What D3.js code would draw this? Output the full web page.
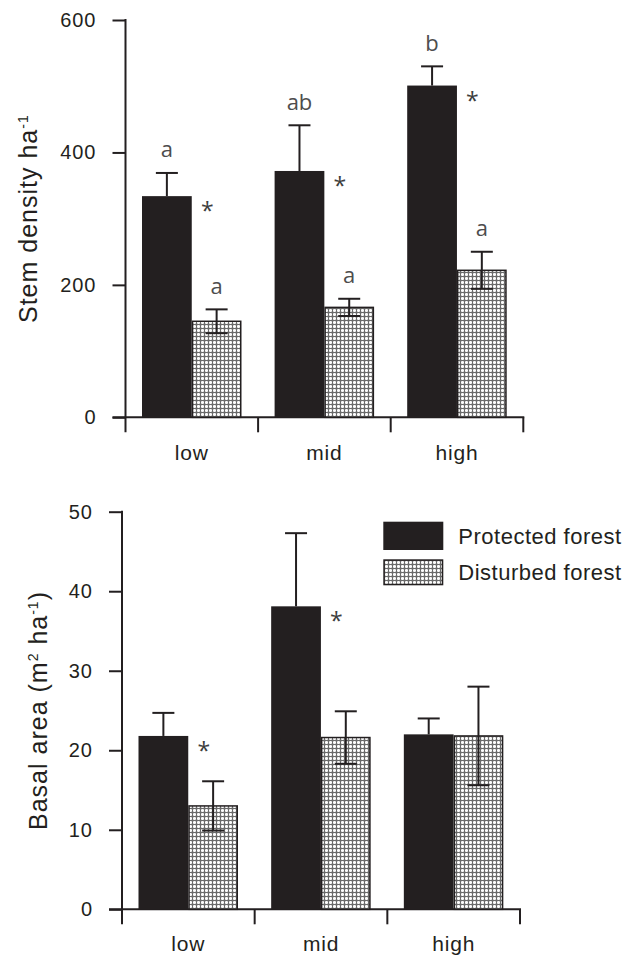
<!DOCTYPE html>
<html>
<head>
<meta charset="utf-8">
<script src="https://cdn.jsdelivr.net/npm/d3@7"></script>
<style>
  html, body { margin: 0; padding: 0; background: #fff; }
  svg { display: block; }
</style>
</head>
<body>
<svg id="fig" width="627" height="957"></svg>
<script>
// Forest structure along three disturbance levels
const categories = ["low", "mid", "high"];
const seriesNames = ["Protected forest", "Disturbed forest"];

// Stem density (stems per ha), mean and standard error
const stemProtected = [334, 372, 501];
const stemProtectedErr = [35, 69, 29];
const stemDisturbed = [145, 166, 222];
const stemDisturbedErr = [18, 13, 28];
const stemLettersProtected = ["a", "ab", "b"];
const stemLettersDisturbed = ["a", "a", "a"];
const stemStars = [true, true, true];
const stemTicks = [0, 200, 400, 600];

// Basal area (m² per ha), mean and standard error
const basalProtected = [21.8, 38.1, 22.0];
const basalProtectedErr = [2.9, 9.2, 2.0];
const basalDisturbed = [13.0, 21.6, 21.8];
const basalDisturbedErr = [3.1, 3.3, 6.2];
const basalStars = [true, true, false];
const basalTicks = [0, 10, 20, 30, 40, 50];

const INK = "#231f20";
const svg = d3.select("#fig");

// fine checked fill used for the disturbed forest bars
const defs = svg.append("defs");
const pat = defs.append("pattern")
  .attr("id", "grid")
  .attr("patternUnits", "userSpaceOnUse")
  .attr("width", 4).attr("height", 4);
pat.append("rect").attr("width", 4).attr("height", 4).attr("fill", "#d2d2d2");
pat.append("rect").attr("x", 2).attr("width", 1).attr("height", 4).attr("fill", "#fbfbfb");
pat.append("rect").attr("y", 2).attr("width", 4).attr("height", 1).attr("fill", "#fbfbfb");
pat.append("rect").attr("x", 0).attr("width", 1).attr("height", 4).attr("fill", "#6a6a6a");
pat.append("rect").attr("y", 0).attr("width", 4).attr("height", 1).attr("fill", "#6a6a6a");

const fillFor = i => i === 0 ? INK : "url(#grid)";

function panel(cfg) {
  const g = svg.append("g");
  const x = d3.scaleBand().domain(categories).range([cfg.x0, cfg.x1]);
  const xs = d3.scaleBand().domain(seriesNames).range([16.5, 116]);
  const y = d3.scaleLinear().domain([0, cfg.max]).range([cfg.yBottom, cfg.yTop]);

  // y axis
  const yAxis = d3.axisLeft(y).tickValues(cfg.ticks).tickSize(13).tickPadding(16);
  const ya = g.append("g").attr("transform", `translate(${cfg.x0},0)`).call(yAxis);
  ya.select(".domain").remove();
  ya.selectAll(".tick line").attr("stroke", INK).attr("stroke-width", 2);
  ya.selectAll(".tick text")
    .attr("fill", INK)
    .style("font-family", "'Liberation Sans', Arial, sans-serif")
    .style("font-size", "20px")
    .style("letter-spacing", "1px");
  g.append("line")
    .attr("x1", cfg.x0).attr("x2", cfg.x0)
    .attr("y1", y(cfg.max) - 1).attr("y2", y(0) + 15)
    .attr("stroke", INK).attr("stroke-width", 2);

  // x axis: baseline, category boundary ticks and labels
  g.append("line")
    .attr("x1", cfg.x0 - 13).attr("x2", cfg.x1 + 1)
    .attr("y1", y(0)).attr("y2", y(0))
    .attr("stroke", INK).attr("stroke-width", 2);
  const bounds = categories.map(c => x(c) + x.bandwidth());
  g.selectAll(".xtick").data(bounds).join("line")
    .attr("x1", d => d).attr("x2", d => d)
    .attr("y1", y(0)).attr("y2", y(0) + 15)
    .attr("stroke", INK).attr("stroke-width", 2);
  g.selectAll(".xlab").data(categories).join("text")
    .attr("x", d => x(d) + x.bandwidth() / 2)
    .attr("y", y(0) + cfg.labelDy)
    .attr("text-anchor", "middle")
    .attr("fill", INK)
    .style("font-family", "'Liberation Sans', Arial, sans-serif")
    .style("font-size", "21px")
    .style("letter-spacing", "0.8px")
    .text(d => d);

  // bars
  const rows = [];
  categories.forEach((c, i) => {
    rows.push({ c, s: 0, v: cfg.prot[i], e: cfg.protErr[i], lab: cfg.lettersP ? cfg.lettersP[i] : null });
    rows.push({ c, s: 1, v: cfg.dist[i], e: cfg.distErr[i], lab: cfg.lettersD ? cfg.lettersD[i] : null });
  });
  const bx = d => x(d.c) + xs(seriesNames[d.s]);
  g.selectAll(".bar").data(rows).join("rect")
    .attr("x", d => bx(d) + (d.s === 1 ? 0.75 : 0))
    .attr("y", d => y(d.v))
    .attr("width", d => xs.bandwidth() - (d.s === 1 ? 1.5 : 0))
    .attr("height", d => y(0) - y(d.v))
    .attr("fill", d => fillFor(d.s))
    .attr("stroke", d => d.s === 1 ? INK : "none")
    .attr("stroke-width", 1.5);

  // error bars (upper whisker; lower whisker shows only on the light bars)
  const cap = 11;
  rows.forEach(d => {
    const cx = bx(d) + xs.bandwidth() / 2;
    const top = y(d.v + d.e);
    const bot = d.s === 1 ? y(d.v - d.e) : y(d.v);
    g.append("line").attr("x1", cx).attr("x2", cx).attr("y1", top).attr("y2", bot)
      .attr("stroke", INK).attr("stroke-width", 2);
    g.append("line").attr("x1", cx - cap).attr("x2", cx + cap).attr("y1", top).attr("y2", top)
      .attr("stroke", INK).attr("stroke-width", 2);
    if (d.s === 1) {
      g.append("line").attr("x1", cx - cap).attr("x2", cx + cap).attr("y1", bot).attr("y2", bot)
        .attr("stroke", INK).attr("stroke-width", 2);
    }
    if (d.lab) {
      g.append("text")
        .attr("x", cx).attr("y", top - 15.5)
        .attr("text-anchor", "middle")
        .attr("fill", "#4d4d4d")
        .style("font-family", "'Open Sans', sans-serif")
        .style("font-size", "22px")
        .text(d.lab);
    }
  });

  // significance stars between the paired bars
  categories.forEach((c, i) => {
    if (!cfg.stars[i]) return;
    g.append("text")
      .attr("x", x(c) + xs(seriesNames[1]) + 15.5)
      .attr("y", y(cfg.prot[i]) + 11 + 12)
      .attr("text-anchor", "middle")
      .attr("fill", "#3d3d3d")
      .style("font-family", "'Open Sans', sans-serif")
      .style("font-size", "23px")
      .text("*");
  });

  // y axis title
  const title = g.append("text")
    .attr("transform", `translate(${cfg.titleX},${(y(0) + y(cfg.max)) / 2}) rotate(-90)`)
    .attr("text-anchor", "middle")
    .attr("fill", INK)
    .style("font-family", "'Liberation Sans', Arial, sans-serif")
    .style("font-size", "25px")
    .style("letter-spacing", "1px");
  cfg.title.forEach(part => {
    const t = title.append("tspan").text(part.t);
    if (part.sup) t.attr("dy", "-0.6em").style("font-size", "14px");
    if (part.down) t.attr("dy", "0.34em");
  });
  return { x, y };
}

panel({
  x0: 125.5, x1: 523.3, yTop: 20, yBottom: 417.3, max: 600,
  ticks: stemTicks, labelDy: 43,
  prot: stemProtected, protErr: stemProtectedErr,
  dist: stemDisturbed, distErr: stemDisturbedErr,
  lettersP: stemLettersProtected, lettersD: stemLettersDisturbed,
  stars: stemStars, titleX: 36.5,
  title: [{ t: "Stem density ha" }, { t: "-1", sup: true }]
});

panel({
  x0: 122, x1: 520, yTop: 511.7, yBottom: 909.3, max: 50,
  ticks: basalTicks, labelDy: 42,
  prot: basalProtected, protErr: basalProtectedErr,
  dist: basalDisturbed, distErr: basalDisturbedErr,
  lettersP: null, lettersD: null,
  stars: basalStars, titleX: 46.5,
  title: [{ t: "Basal area (m" }, { t: "2", sup: true }, { t: " ha", down: true },
          { t: "-1", sup: true }, { t: ")", down: true }]
});

// legend
const legend = svg.append("g");
seriesNames.forEach((name, i) => {
  const ly = [521.7, 559.3][i];
  legend.append("rect")
    .attr("x", 383.3 + (i ? 0.75 : 0)).attr("y", ly + (i ? 0.75 : 0))
    .attr("width", 60 - (i ? 1.5 : 0)).attr("height", (i ? 26 : 28.3) - (i ? 1.5 : 0))
    .attr("fill", fillFor(i))
    .attr("stroke", i ? INK : "none").attr("stroke-width", 1.5);
  legend.append("text")
    .attr("x", 458.3).attr("y", [544.3, 580][i])
    .attr("fill", INK)
    .style("font-family", "'Liberation Sans', Arial, sans-serif")
    .style("font-size", "22px")
    .style("letter-spacing", "0.5px")
    .text(name);
});
</script>
</body>
</html>
